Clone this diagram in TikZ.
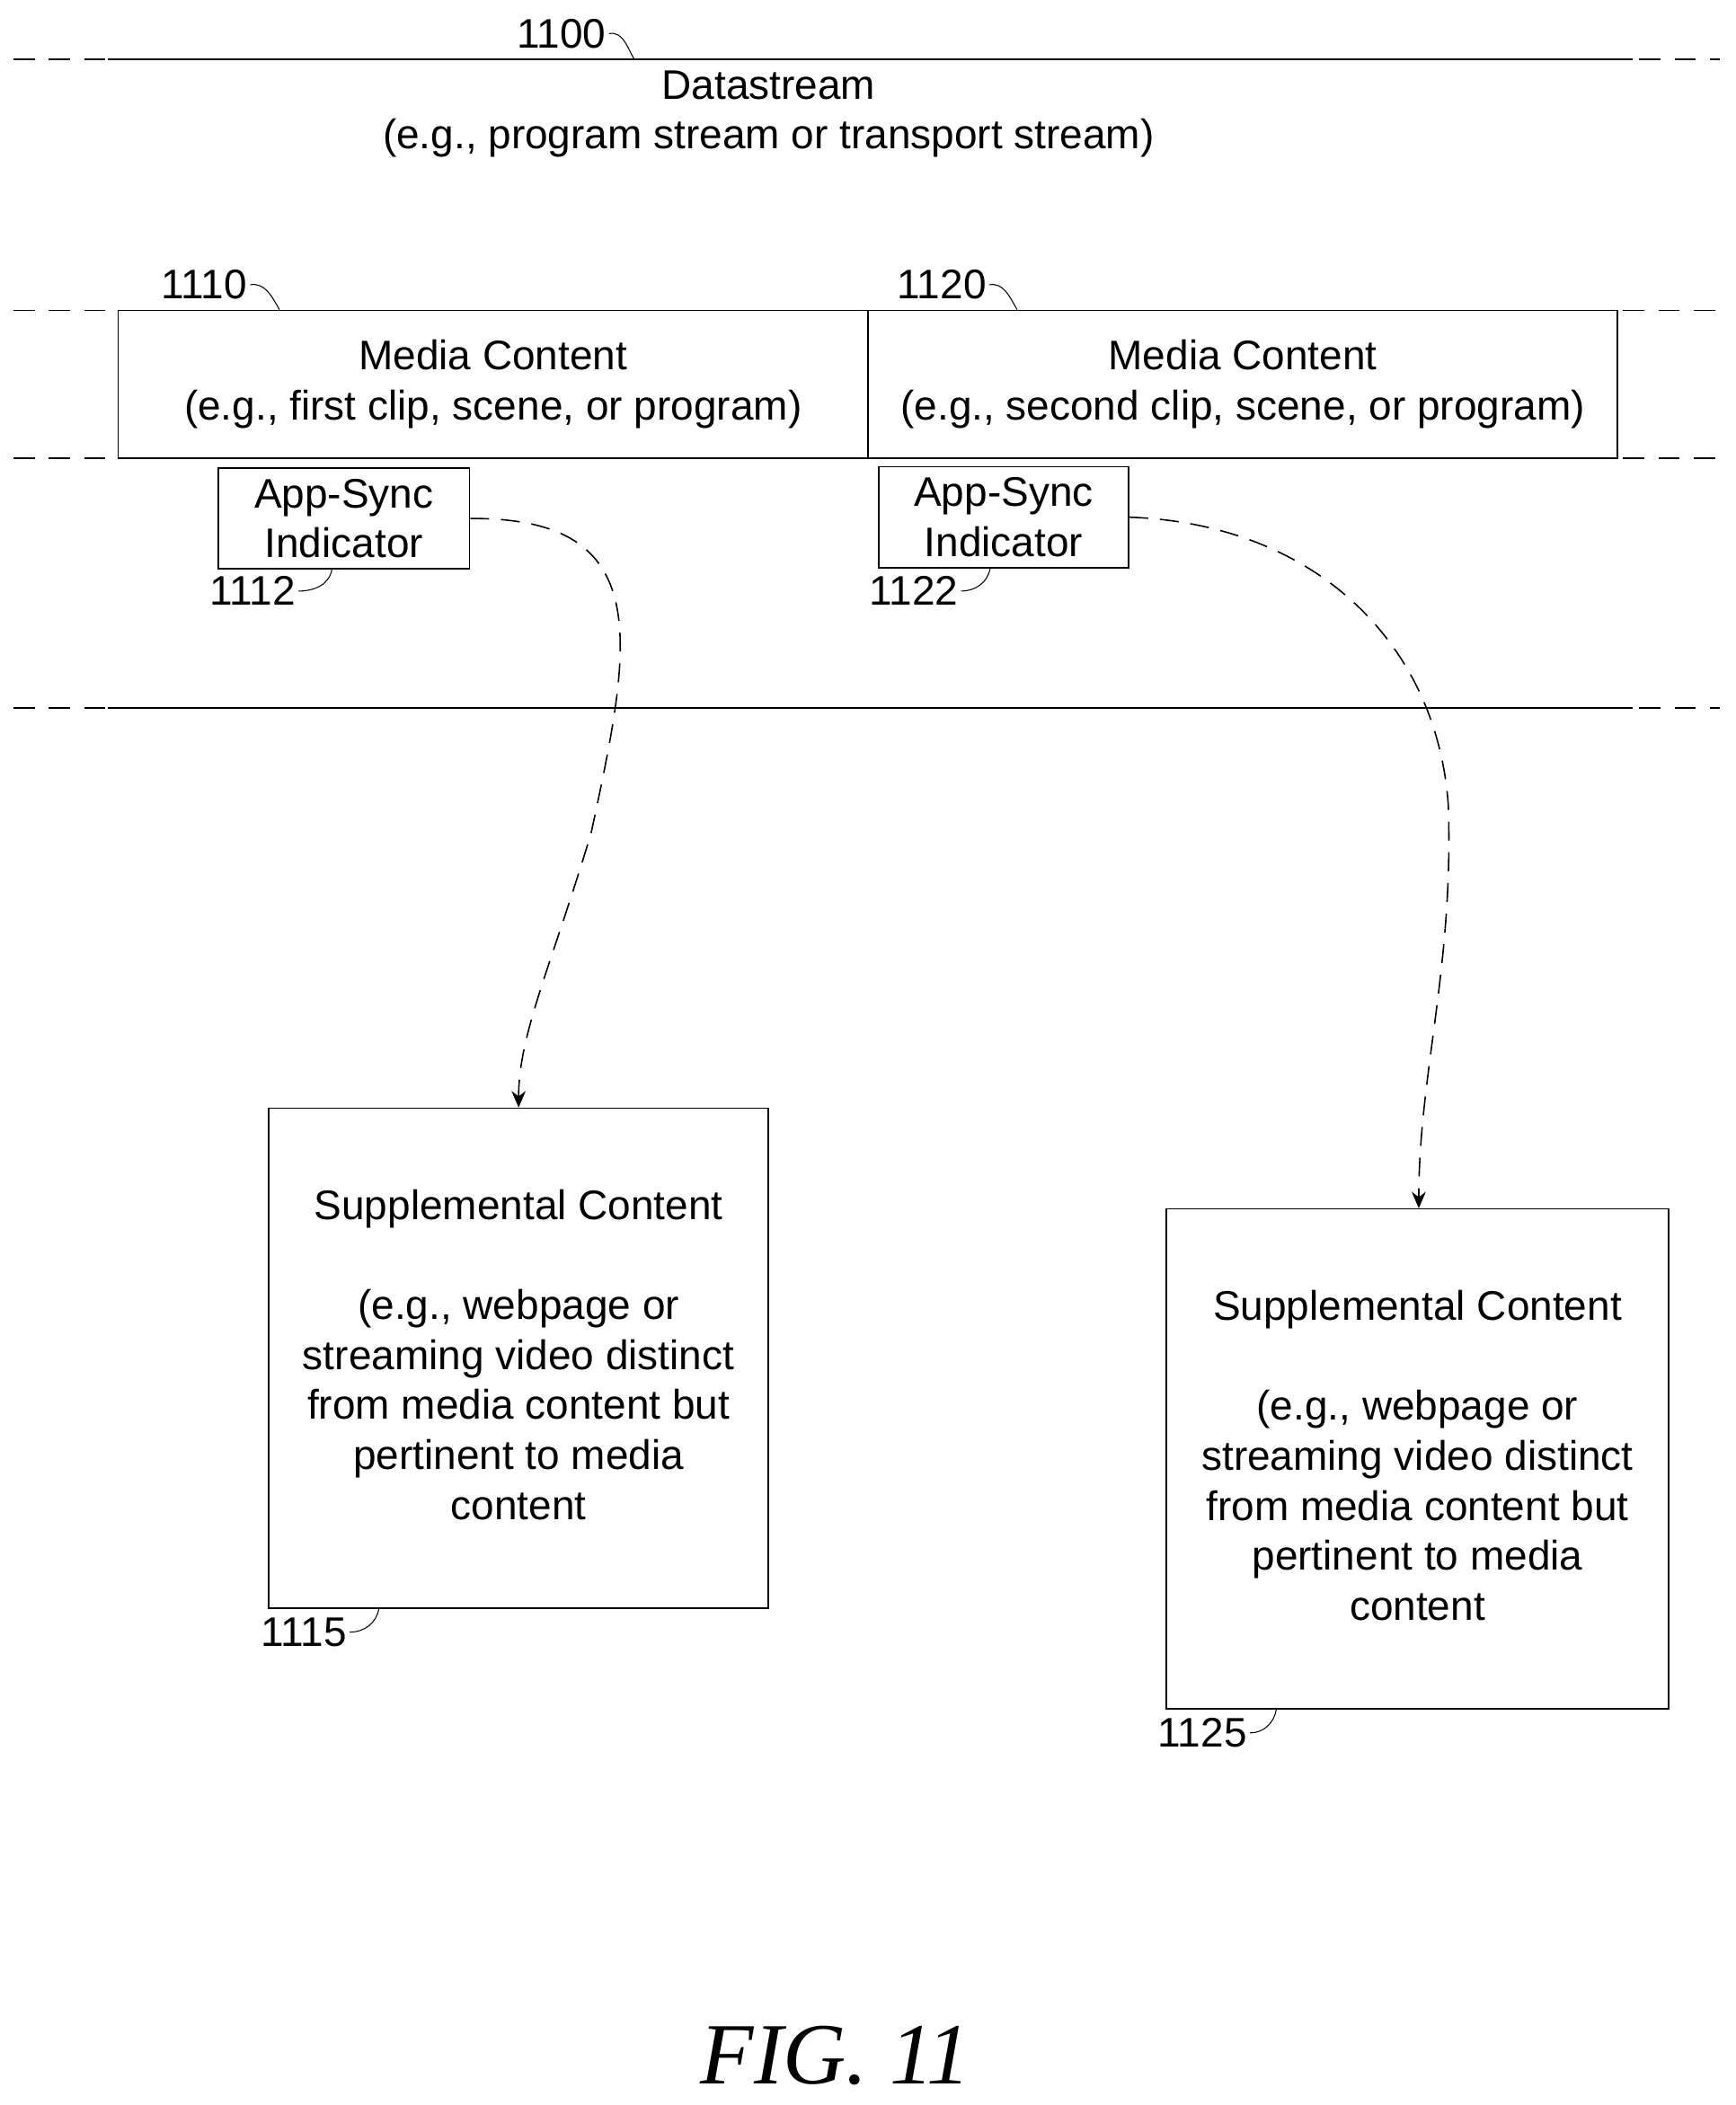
\documentclass[tikz,border=0pt]{standalone}
\usepackage{fontspec}
\setmainfont{Liberation Sans}
\newfontfamily\figfont{Liberation Serif}
\usetikzlibrary{arrows.meta,positioning}

\begin{document}
\begin{tikzpicture}[x=0.02cm, y=-0.02cm, semithick,
  every node/.style={font=\fontsize{17.5}{21.2}\selectfont, align=center},
  blk/.style={draw, inner sep=0pt},
  ref/.style={inner sep=1pt},
  lead/.style={thin},
  sync/.style={->, >={Stealth[length=7pt,width=6pt]}, dashed, dash pattern=on 8pt off 5pt}]

\useasboundingbox (0,0) rectangle (1292,1567);

% stream levels
\foreach \y in {44,527} {
  \draw[dashed, dash pattern=on 9pt off 6pt] (10,\y) -- (80,\y);
  \draw (80,\y) -- (1215,\y);
  \draw[dashed, dash pattern=on 9pt off 6pt] (1220,\y) -- (1280,\y);
}
\draw[dashed, dash pattern=on 9pt off 6pt] (10,231) -- (85,231) (10,341) -- (85,341);
\draw[dashed, dash pattern=on 9pt off 6pt] (1208,231) -- (1280,231) (1208,341) -- (1280,341);

\node (ds) at (572,85) {Datastream\\(e.g., program stream or transport stream)};
\node[ref] (n1100) at (418,25) {1100};
\draw[lead] (n1100.east) to[out=10,in=120] (472,44);

% media content
\node[blk, minimum width=558*0.02cm, minimum height=110*0.02cm] (mc1) at (367,286)
  {Media Content\\(e.g., first clip, scene, or program)};
\node[blk, minimum width=558*0.02cm, minimum height=110*0.02cm] (mc2) at (925,286)
  {Media Content\\(e.g., second clip, scene, or program)};
\node[ref] (n1110) at (152,212) {1110};
\node[ref] (n1120) at (701,212) {1120};
\draw[lead] (n1110.east) to[out=10,in=120] (mc1.north west -| 208,0);
\draw[lead] (n1120.east) to[out=10,in=120] (mc2.north west -| 757,0);

% indicators
\node[blk, minimum width=187*0.02cm, minimum height=75*0.02cm] (as1) at (256,386)
  {App-Sync\\Indicator};
\node[blk, minimum width=186*0.02cm, minimum height=75*0.02cm] (as2) at (747,385)
  {App-Sync\\Indicator};
\node[ref] (n1112) at (188,440) {1112};
\node[ref] (n1122) at (680,440) {1122};
\draw[lead] (n1112.east) to[out=0,in=-100] (as1.south -| 247,0);
\draw[lead] (n1122.east) to[out=0,in=-100] (as2.south -| 737,0);

% supplemental content
\node[blk, minimum width=372*0.02cm, minimum height=372*0.02cm] (sc1) at (386,1011) {};
\node[blk, minimum width=374*0.02cm, minimum height=372*0.02cm] (sc2) at (1055,1086) {};
\node[anchor=north] at (386,879) {Supplemental Content\\[21.2pt](e.g., webpage or\\streaming video distinct\\from media content but\\pertinent to media\\content};
\node[anchor=north] at (1055,954) {Supplemental Content\\[21.2pt](e.g., webpage or\\streaming video distinct\\from media content but\\pertinent to media\\content};
\node[ref] (n1115) at (226,1215) {1115};
\node[ref] (n1125) at (895,1290) {1125};
\draw[lead] (n1115.east) to[out=0,in=-100] (sc1.south -| 282,0);
\draw[lead] (n1125.east) to[out=0,in=-100] (sc2.south -| 950,0);

% sync links
\draw[sync] (as1.east) .. controls (490,385) and (470,480) .. (440,620)
  .. controls (410,720) and (386,770) .. (sc1.north -| 386,0);
\draw[sync] (as2.east) .. controls (980,390) and (1070,480) .. (1078,600)
  .. controls (1082,720) and (1056,800) .. (sc2.north -| 1056,0);

\node[font=\figfont\itshape\fontsize{37}{40}\selectfont] (fig) at (622,1530) {FIG. 11};
\end{tikzpicture}
\end{document}
